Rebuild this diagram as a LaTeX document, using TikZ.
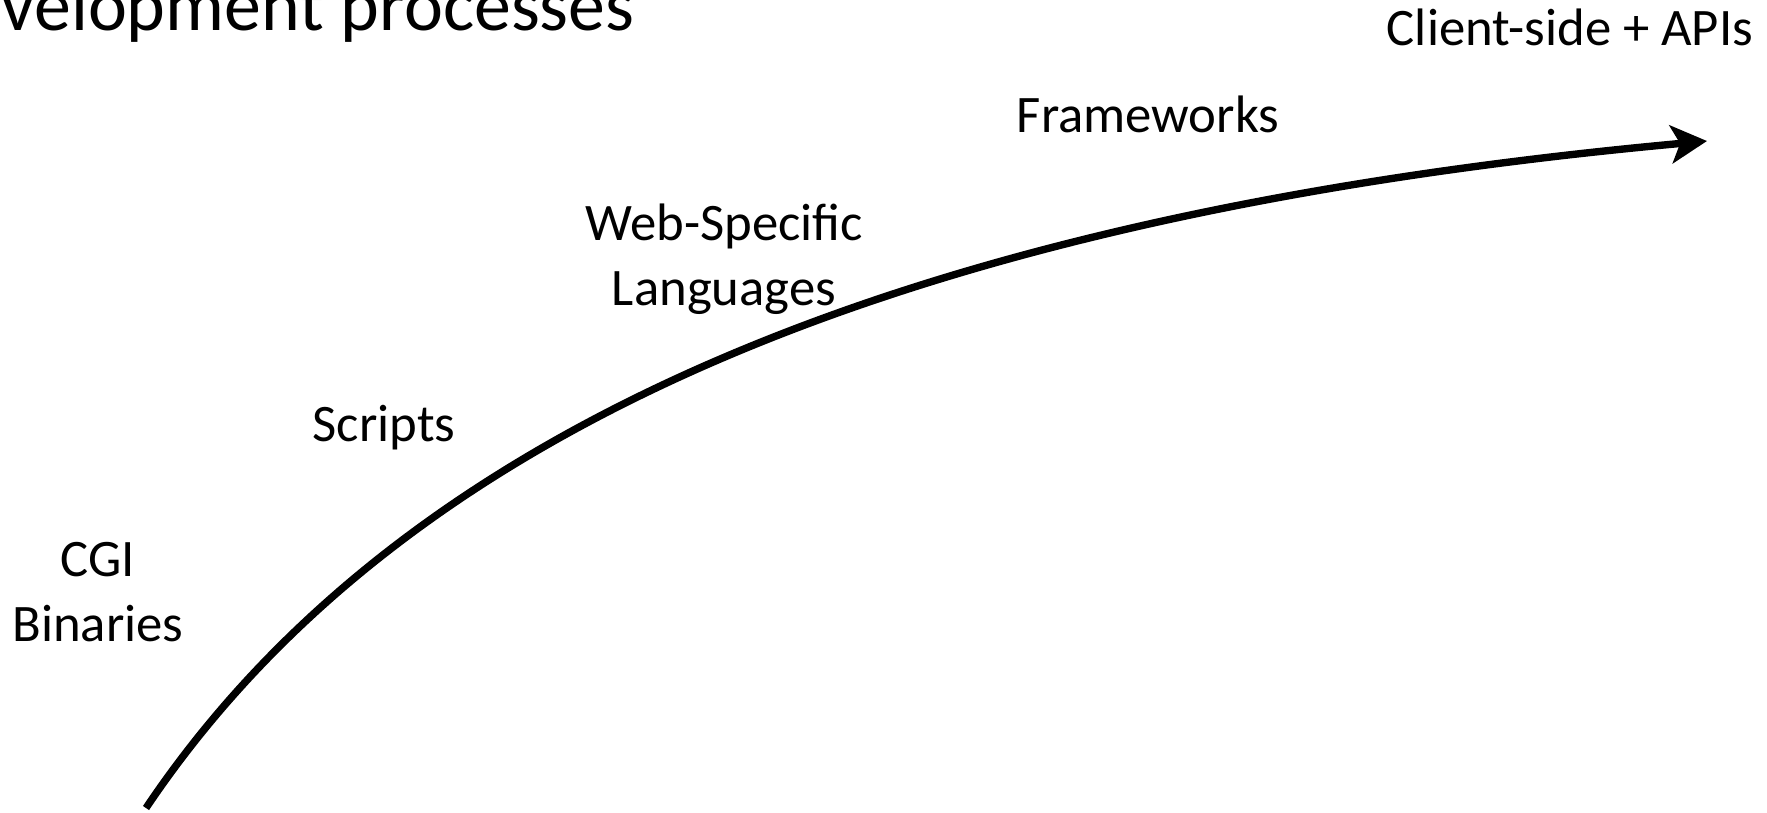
\documentclass[tikz,border=0pt]{standalone}
\usepackage{fontspec}
\setmainfont{Carlito}
\usetikzlibrary{arrows.meta}
\tikzstyle{every node}=[font=\fontsize{15}{18.4}\selectfont, inner sep=0pt]
\tikzstyle{era}=[align=center, anchor=base]

\begin{document}
\begin{tikzpicture}[x=0.1mm, y=-0.1mm]
	\useasboundingbox (0,0) rectangle (1767,812);
	\clip (0,0) rectangle (1767,812);
	\node[anchor=base west, font=\fontsize{21}{25}\selectfont] (title) at (1,30) {velopment processes}; % title, cut off by the slide edge
	\node[era] (cgi) at (98,641) {CGI\\Binaries};
	\node[era] (scripts) at (384,441) {Scripts};
	\node[era] (web) at (724,305) {Web-Specific\\Languages};
	\node[era] (frameworks) at (1148,132) {Frameworks};
	\node[era] (client) at (1570,45) {Client-side + APIs};
	\coordinate (start) at (146,808);
	\coordinate (tip) at (1707,141);
	\draw[line width=2.1pt, -{Stealth[length=0.36cm, width=0.38cm, inset=0.09cm]}] (start) .. controls (400,430) and (900,215) .. (tip); % evolution curve
\end{tikzpicture}
\end{document}
